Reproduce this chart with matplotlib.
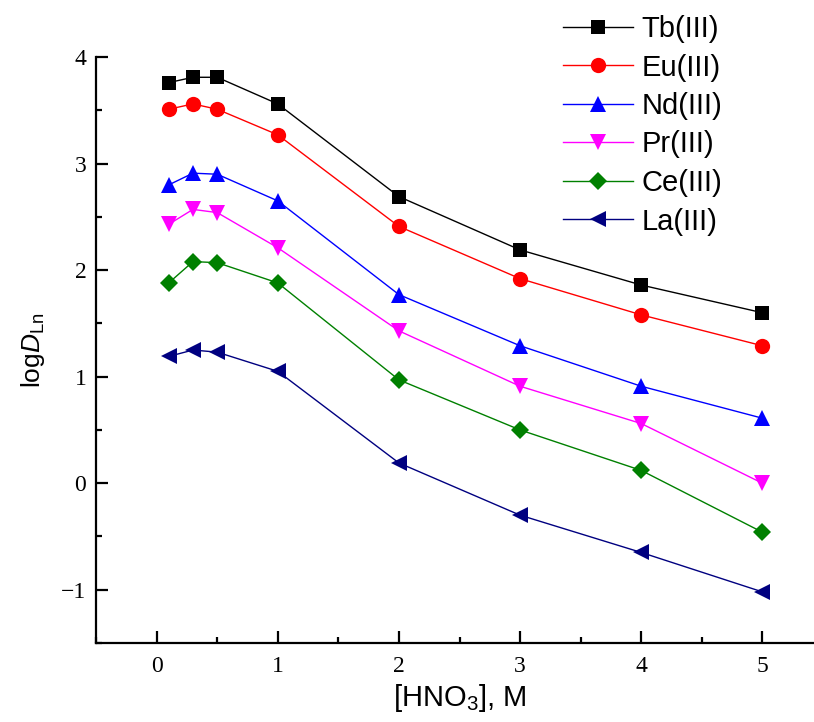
import matplotlib
matplotlib.use('Agg')
import matplotlib.pyplot as plt
from matplotlib.ticker import MultipleLocator

# HNO3 concentration, M
hno3 = [0.1, 0.3, 0.5, 1, 2, 3, 4, 5]

# logD values
tb = [3.76, 3.81, 3.81, 3.56, 2.69, 2.19, 1.86, 1.60]
eu = [3.51, 3.56, 3.51, 3.27, 2.41, 1.92, 1.58, 1.29]
nd = [2.80, 2.91, 2.90, 2.65, 1.77, 1.29, 0.91, 0.61]
pr = [2.43, 2.57, 2.54, 2.21, 1.43, 0.91, 0.56, 0.00]
ce = [1.88, 2.08, 2.07, 1.88, 0.97, 0.50, 0.12, -0.46]
la = [1.19, 1.25, 1.23, 1.05, 0.19, -0.30, -0.65, -1.02]

labels = ['Tb(III)', 'Eu(III)', 'Nd(III)', 'Pr(III)', 'Ce(III)', 'La(III)']
xticks = [0, 1, 2, 3, 4, 5]
yticks = [-1, 0, 1, 2, 3, 4]

plt.rcParams['mathtext.fontset'] = 'custom'
plt.rcParams['mathtext.rm'] = 'Liberation Sans'
plt.rcParams['mathtext.it'] = 'Liberation Sans:italic'

fig = plt.figure(figsize=(8.14, 7.22), dpi=100)
ax = fig.add_axes([0.118, 0.1094, 1.011 - 0.118, 0.921 - 0.1094])

# series, colour, marker, marker size
styles = [
    (tb, 'black', 's', 10),
    (eu, 'red', 'o', 11),
    (nd, 'blue', '^', 11),
    (pr, 'magenta', 'v', 11),
    (ce, 'green', 'D', 9),
    (la, 'navy', '<', 11),
]
for (vals, color, marker, ms), lab in zip(styles, labels):
    ax.plot(hno3, vals, color=color, marker=marker, markersize=ms,
            linewidth=1, markeredgewidth=0, label=lab)

ax.set_xlim(-0.5, 5.5)
ax.set_ylim(-1.5, 4)
ax.xaxis.set_minor_locator(MultipleLocator(0.5))
ax.yaxis.set_minor_locator(MultipleLocator(0.5))

for side in ['top', 'right']:
    ax.spines[side].set_visible(False)
for side in ['left', 'bottom']:
    ax.spines[side].set_linewidth(1.6)

ax.set_yticks(yticks)
ax.set_yticklabels([str(v).replace('-', '\u2212') for v in yticks],
                   fontfamily='Liberation Serif')
ax.set_xticks(xticks)
ax.set_xticklabels([str(v) for v in xticks], fontfamily='Liberation Serif')
ax.tick_params(which='major', direction='in', length=8.5, width=1.6,
               labelsize=17)
ax.tick_params(axis='x', which='major', pad=9)
ax.tick_params(axis='y', which='major', pad=7)
ax.tick_params(which='minor', direction='in', length=4, width=1.6)

ax.set_xlabel('[HNO$_3$], M', fontsize=21, fontfamily='Liberation Sans', labelpad=4)
ax.set_ylabel('log$\\mathit{D}_{\\mathrm{Ln}}$', fontsize=19,
              fontfamily='Liberation Sans', labelpad=10)

ax.legend(loc='upper left', bbox_to_anchor=(563 / 814, 1 - 15 / 722),
          bbox_transform=fig.transFigure, frameon=False,
          prop={'family': 'Liberation Sans', 'size': 21},
          handlelength=2.4, handletextpad=0.3, labelspacing=0.36,
          borderpad=0, borderaxespad=0)

plt.savefig('out.png', dpi=100)
